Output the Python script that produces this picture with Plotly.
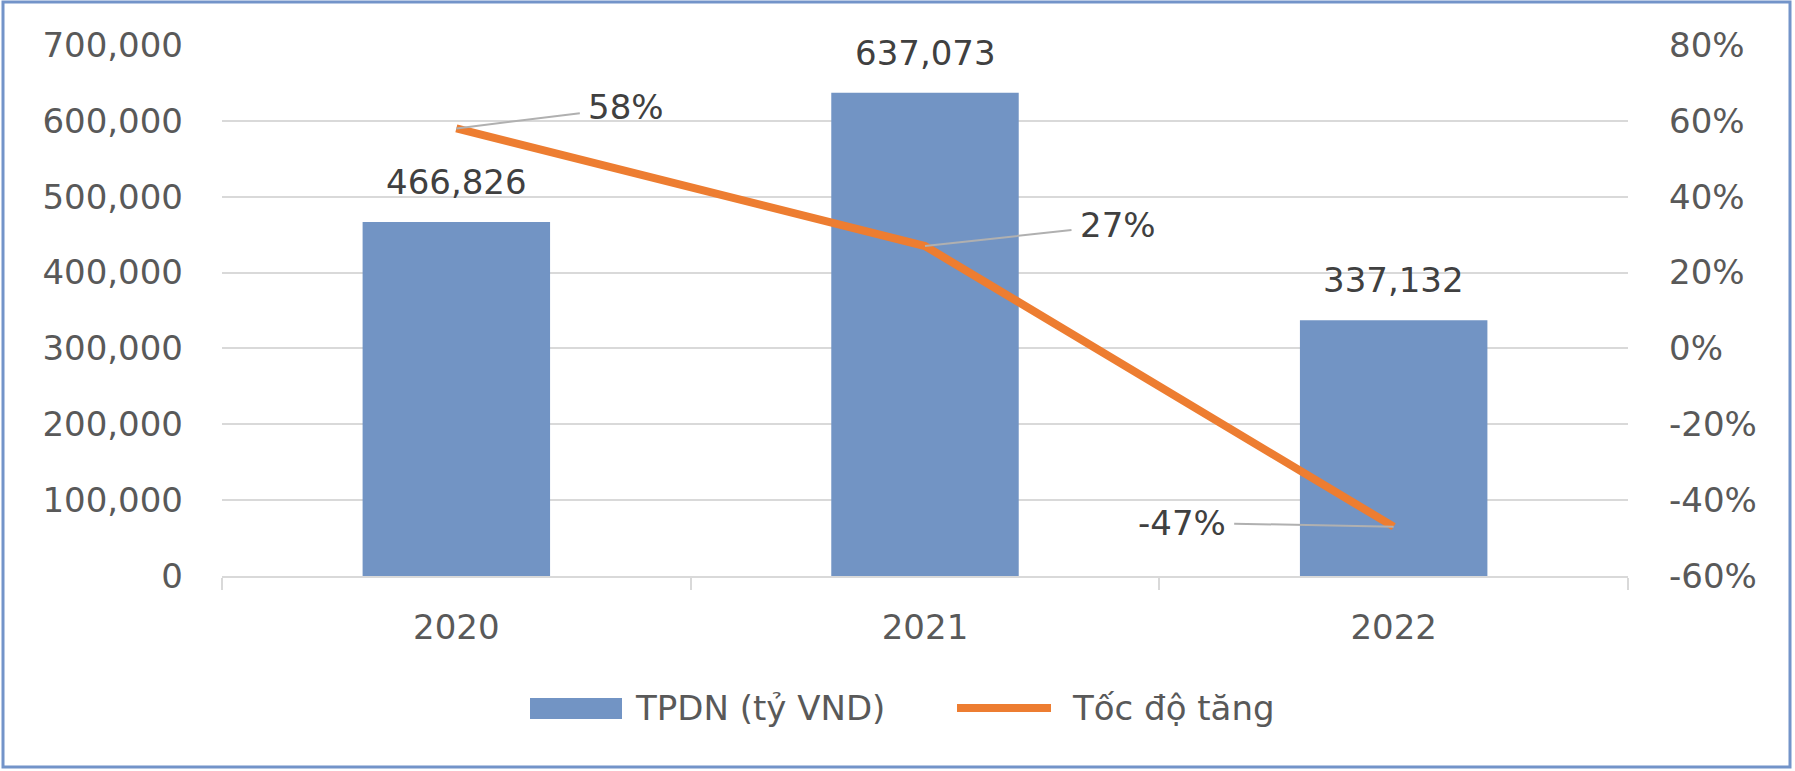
import plotly.graph_objects as go

years = ["2020", "2021", "2022"]
tpdn = [466826, 637073, 337132]
growth = [0.58, 0.27, -0.47]
growth_labels = ["58%", "27%", "-47%"]
bar_labels = ["466,826", "637,073", "337,132"]
series_names = ["TPDN (tỷ VND)", "Tốc độ tăng"]
left_ticks = [0, 100000, 200000, 300000, 400000, 500000, 600000, 700000]
left_tick_text = ["0", "100,000", "200,000", "300,000", "400,000", "500,000", "600,000", "700,000"]
right_ticks = [-0.6, -0.4, -0.2, 0.0, 0.2, 0.4, 0.6, 0.8]
right_tick_text = ["-60%", "-40%", "-20%", "0%", "20%", "40%", "60%", "80%"]

W, H = 1795, 771
L, R, T, B = 222, 167, 45, 195
PW, PH = W - L - R, H - T - B

def px(x):
    return (x - L) / PW

def py(y):
    return (H - B - y) / PH

FONT = "DejaVu Sans"
BLUE = "#7294C4"
ORANGE = "#ED7D31"
TICK = "#595959"
LABEL = "#404040"
GRID = "#D9D9D9"

fig = go.Figure()
fig.add_trace(go.Bar(x=years, y=tpdn, name=series_names[0], marker=dict(color=BLUE, line=dict(width=0)),
                     yaxis="y", showlegend=False))
fig.add_trace(go.Scatter(x=years, y=growth, name=series_names[1], mode="lines",
                         line=dict(color=ORANGE, width=8), yaxis="y2", showlegend=False))

annotations = []
for i, (v, t) in enumerate(zip(tpdn, bar_labels)):
    annotations.append(dict(x=i, y=v, xref="x", yref="y", text=t, showarrow=False,
                            yanchor="bottom", yshift=18, font=dict(family=FONT, size=34, color=LABEL)))

offsets = [(170, -21), (193, -21), (-212, -4)]
for i, (g, t, (ax, ay)) in enumerate(zip(growth, growth_labels, offsets)):
    annotations.append(dict(x=i, y=g, xref="x", yref="y2", text=t, showarrow=True,
                            arrowhead=0, arrowwidth=2, arrowcolor="#B0B0B0", ax=ax, ay=ay,
                            axref="pixel", ayref="pixel", standoff=0, borderpad=8,
                            font=dict(family=FONT, size=34, color=LABEL)))

# custom legend
annotations.append(dict(x=px(633), y=py(708), xref="paper", yref="paper", text=series_names[0],
                        showarrow=False, xanchor="left", yanchor="middle",
                        font=dict(family=FONT, size=34, color=TICK)))
annotations.append(dict(x=px(1070), y=py(708), xref="paper", yref="paper", text=series_names[1],
                        showarrow=False, xanchor="left", yanchor="middle",
                        font=dict(family=FONT, size=34, color=TICK)))

shapes = [
    dict(type="rect", xref="paper", yref="paper", x0=px(530), x1=px(622), y0=py(719), y1=py(698),
         fillcolor=BLUE, line=dict(width=0)),
    dict(type="line", xref="paper", yref="paper", x0=px(957), x1=px(1051), y0=py(708), y1=py(708),
         line=dict(color=ORANGE, width=8)),
    dict(type="rect", xref="paper", yref="paper", x0=px(3), x1=px(1790), y0=py(767), y1=py(2),
         line=dict(color="#7394C9", width=3), fillcolor="rgba(0,0,0,0)", layer="below"),
]

fig.update_layout(
    width=W, height=H,
    margin=dict(l=L, r=R, t=T, b=B, autoexpand=False),
    paper_bgcolor="white", plot_bgcolor="white",
    bargap=0.6,
    font=dict(family=FONT, size=34, color=TICK),
    xaxis=dict(type="category", range=[-0.5, 2.5], autorange=False, showgrid=False,
               showline=True, linecolor=GRID, linewidth=2,
               ticks="outside", tickson="boundaries", ticklen=12, tickcolor=GRID, tickwidth=2,
               tickangle=0, automargin=False,
               tickfont=dict(family=FONT, size=34, color=TICK), ticklabelstandoff=20),
    yaxis=dict(range=[0, 700000], autorange=False, tickvals=left_ticks, ticktext=left_tick_text,
               showgrid=True, gridcolor=GRID, automargin=False,
               gridwidth=2, zeroline=False, showline=False, ticks="", ticklabelstandoff=38,
               tickfont=dict(family=FONT, size=34, color=TICK)),
    yaxis2=dict(range=[-0.6, 0.8], autorange=False, tickvals=right_ticks, ticktext=right_tick_text,
                overlaying="y", side="right", automargin=False,
                showgrid=False, zeroline=False, showline=False, ticks="", ticklabelstandoff=40,
                tickfont=dict(family=FONT, size=34, color=TICK)),
    annotations=annotations,
    shapes=shapes,
    showlegend=False,
)

fig.write_html("out.html", config={"displayModeBar": False},
               post_script="document.body.style.margin='0';")
